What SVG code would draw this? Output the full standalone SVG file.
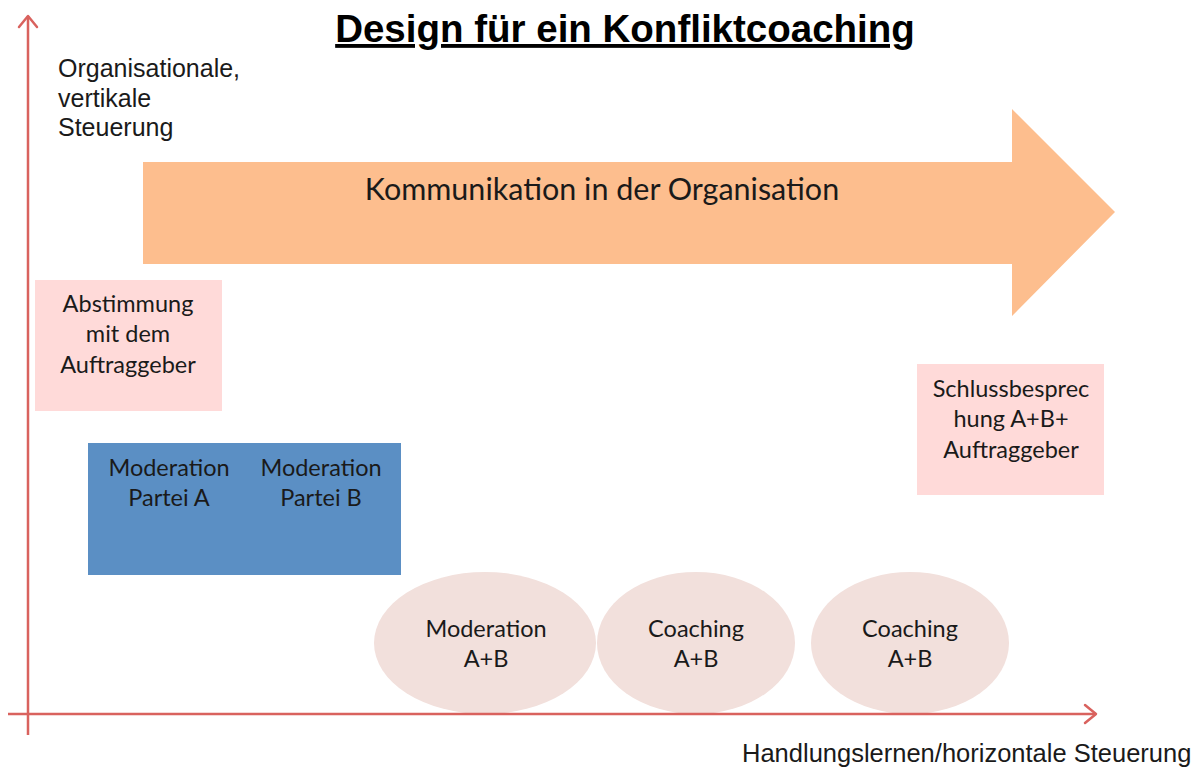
<svg xmlns="http://www.w3.org/2000/svg" width="1203" height="771" viewBox="0 0 1203 771">
<style>
.ax{stroke:#d9625e;stroke-width:2.5;fill:none}
.ah{stroke:#d9625e;stroke-width:2.5;fill:none;stroke-linecap:round;stroke-linejoin:round}
.sans{font-family:"Liberation Sans",Arial,sans-serif;fill:#1a1a1a}
.cal{font-family:Lato,"Noto Sans",sans-serif;fill:#1a1a1a;text-anchor:middle;font-size:23.5px}
.pink{fill:#ffdad9}
.blue{fill:#5b8fc4}
.ell{fill:#f2e0dc}
</style>
<rect width="1203" height="771" fill="#ffffff"/>
<text x="625" y="42" class="sans" style="font-size:38.5px;font-weight:bold;text-anchor:middle;text-decoration:underline;fill:#000">Design für ein Konfliktcoaching</text>
<g id="bigarrow">
<polygon points="143,162 1012,162 1012,109 1115,212 1012,316 1012,264 143,264" fill="#fdbe8e"/>
<text x="602" y="200" class="cal" style="font-size:30.5px">Kommunikation in der Organisation</text>
</g>
<g id="abstimmung">
<rect x="35" y="280" width="187" height="131" class="pink"/>
<text class="cal"><tspan x="128" y="312">Abstimmung</tspan><tspan x="128" y="342">mit dem</tspan><tspan x="128" y="373">Auftraggeber</tspan></text>
</g>
<g id="moderationA">
<rect x="88" y="443" width="158" height="132" class="blue"/>
<text class="cal"><tspan x="169" y="476">Moderation</tspan><tspan x="169" y="506">Partei A</tspan></text>
</g>
<g id="moderationB">
<rect x="245" y="443" width="156" height="132" class="blue"/>
<text class="cal"><tspan x="321" y="476">Moderation</tspan><tspan x="321" y="506">Partei B</tspan></text>
</g>
<g id="schluss">
<rect x="917" y="364" width="187" height="131" class="pink"/>
<text class="cal"><tspan x="1011" y="397">Schlussbesprec</tspan><tspan x="1011" y="427">hung A+B+</tspan><tspan x="1011" y="458">Auftraggeber</tspan></text>
</g>
<g id="moderationAB">
<ellipse cx="485" cy="643" rx="111" ry="71" class="ell"/>
<text class="cal"><tspan x="486" y="637">Moderation</tspan><tspan x="486" y="667">A+B</tspan></text>
</g>
<g id="coaching1">
<ellipse cx="696" cy="643" rx="99" ry="71" class="ell"/>
<text class="cal"><tspan x="696" y="637">Coaching</tspan><tspan x="696" y="667">A+B</tspan></text>
</g>
<g id="coaching2">
<ellipse cx="910" cy="643" rx="99" ry="71" class="ell"/>
<text class="cal"><tspan x="910" y="637">Coaching</tspan><tspan x="910" y="667">A+B</tspan></text>
</g>
<g id="connectors">
<line x1="28" y1="735" x2="28" y2="16" class="ax"/>
<polyline points="19,27 28,16 37,27" class="ah"/>
<line x1="8" y1="714" x2="1096" y2="714" class="ax"/>
<polyline points="1085,705 1096,714 1085,723" class="ah"/>
</g>
<text class="sans" style="font-size:25px"><tspan x="58" y="77">Organisationale,</tspan><tspan x="58" y="107">vertikale</tspan><tspan x="58" y="136">Steuerung</tspan></text>
<text x="742" y="762" class="sans" style="font-size:25.5px">Handlungslernen/horizontale Steuerung</text>
</svg>
